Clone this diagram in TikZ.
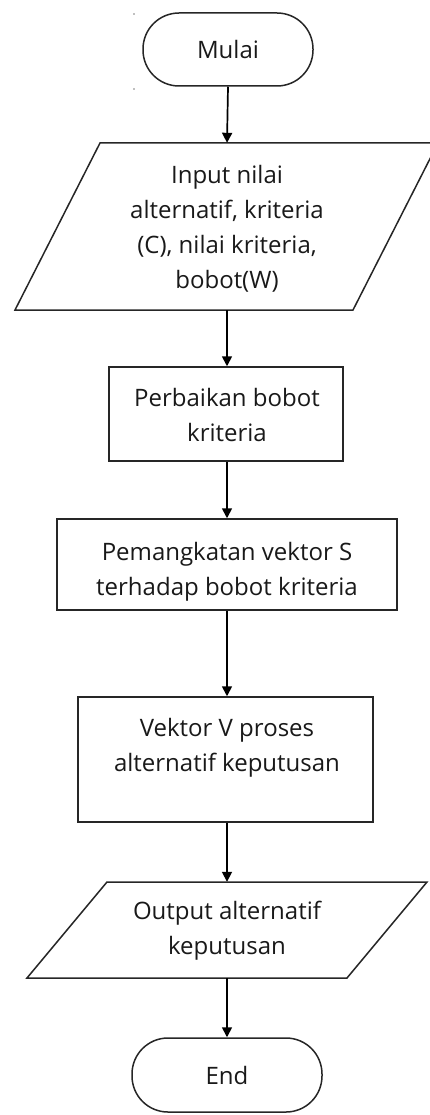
\documentclass[tikz,border=0pt]{standalone}
\usepackage{fontspec}
\setmainfont{Open Sans}
\usetikzlibrary{arrows.meta}
\begin{document}
\begin{tikzpicture}[x=1pt,y=-1pt,
  shapeline/.style={draw=black!85,line width=1.5pt},
  boxnode/.style={shapeline,rectangle,inner sep=0pt},
  termnode/.style={shapeline,rectangle,rounded corners=36pt,inner sep=0pt},
  ghost/.style={rectangle,inner sep=0pt,draw=none},
  lbl/.style={align=center,font=\fontsize{24}{35}\selectfont,text=black!90,inner sep=0pt},
  flow/.style={line width=1.7pt,-{Triangle[width=10pt,length=10pt]}}]
\path[use as bounding box] (0,0) rectangle (430,1115);
\clip (0,0) rectangle (430,1115);
% start terminal
\node[termnode,minimum width=170pt,minimum height=73pt] (mulai) at (228,49.5) {};
\node[lbl] (tmulai) at (228,50) {Mulai};
\fill[black!50] (134,14) circle (0.9pt) (134,89) circle (0.9pt);
% input parallelogram
\draw[shapeline,line join=miter] (100,143) -- (438,143) -- (353,310) -- (15,310) -- cycle;
\node[ghost,minimum width=200pt,minimum height=167pt] (input) at (227,226.5) {};
\node[lbl] (tinput) at (227,229) {Input nilai\\alternatif, kriteria\\(C), nilai kriteria,\\bobot(W)};
% box 2
\node[boxnode,minimum width=234pt,minimum height=94pt] (b2) at (226,414) {};
\node[lbl] (tb2) at (227,415) {Perbaikan bobot\\kriteria};
% box 3
\node[boxnode,minimum width=340pt,minimum height=91pt] (b3) at (227,564.5) {};
\node[lbl] (tb3) at (227,572) {Pemangkatan vektor S\\terhadap bobot kriteria};
% box 4
\node[boxnode,minimum width=295pt,minimum height=125pt] (b4) at (225.5,759.5) {};
\node[lbl] (tb4) at (227,748) {Vektor V proses\\alternatif keputusan};
% output parallelogram
\draw[shapeline,line join=miter] (107,882) -- (427,882) -- (347,978) -- (27,978) -- cycle;
\node[ghost,minimum width=200pt,minimum height=96pt] (output) at (227,930) {};
\node[lbl] (toutput) at (227,931) {Output alternatif\\keputusan};
% end terminal
\node[termnode,minimum width=190pt,minimum height=74pt] (end) at (227,1075) {};
\node[lbl] (tend) at (227,1075) {End};
% connectors
\draw[flow] (mulai.south) -- (input.north);
\draw[flow] (input.south) -- (b2.north -| input.south);
\draw[flow] (b2.south -| input.south) -- (b3.north -| input.south);
\draw[flow] (b3.south -| input.south) -- (b4.north -| input.south);
\draw[flow] (b4.south -| input.south) -- (output.north);
\draw[flow] (output.south) -- (end.north -| output.south);
\end{tikzpicture}
\end{document}
